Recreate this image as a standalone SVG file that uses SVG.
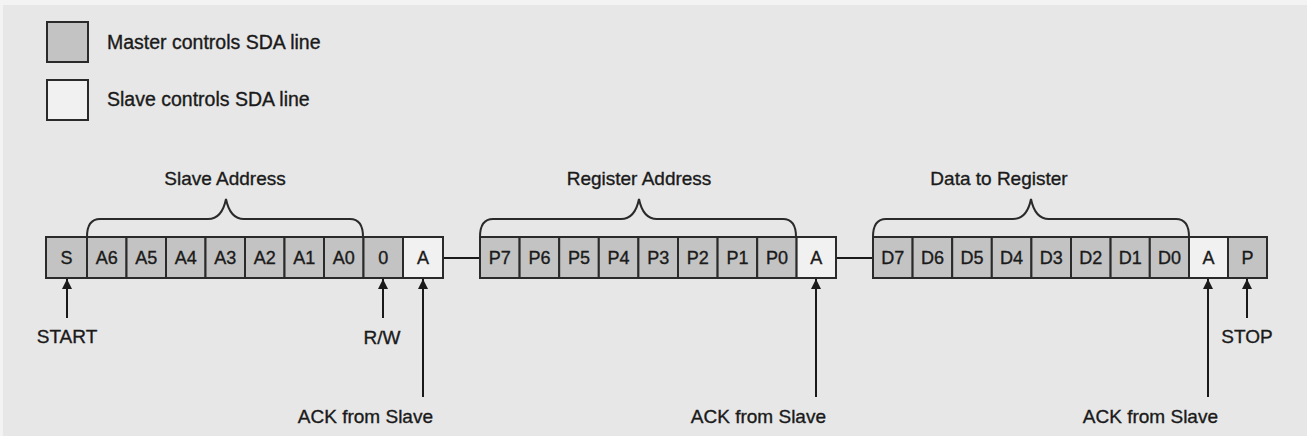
<svg xmlns="http://www.w3.org/2000/svg" width="1307" height="436" viewBox="0 0 1307 436">
<style>
text{font-family:"Liberation Sans",Arial,sans-serif;fill:#1a1a1a;stroke:#1a1a1a;stroke-width:0.35}
.lbl{font-size:19px}
.leg{font-size:19.5px}
.cell text{font-size:18px;text-anchor:middle}
.m{fill:#c3c3c3;stroke:#2a2a2a;stroke-width:2}
.s{fill:#f1f1f1;stroke:#2a2a2a;stroke-width:2}
.ln{stroke:#1a1a1a;stroke-width:2;fill:none}
.br{stroke:#2a2a2a;stroke-width:2;fill:none}
</style>
<defs>
<marker id="ah" viewBox="0 0 10 10" refX="10" refY="5" markerWidth="5.5" markerHeight="5" orient="auto" markerUnits="strokeWidth">
<path d="M0,0 L10,5 L0,10 z" fill="#1a1a1a"/>
</marker>
</defs>
<rect width="1307" height="436" fill="#f3f3f3"/>
<rect x="3" y="5" width="1304" height="431" fill="#e7e7e7"/>

<g id="legend-master"><rect class="m" x="47" y="22" width="41" height="40"/><text class="leg" x="107" y="49">Master controls SDA line</text></g>
<g id="legend-slave"><rect class="s" x="47" y="80" width="41" height="40"/><text class="leg" x="107" y="106">Slave controls SDA line</text></g>

<g id="connectors">
<line class="ln" x1="443" y1="258" x2="480" y2="258"/>
<line class="ln" x1="836" y1="258" x2="873" y2="258"/>
<line class="ln" x1="67" y1="318" x2="67" y2="279" marker-end="url(#ah)"/>
<line class="ln" x1="383" y1="318" x2="383" y2="279" marker-end="url(#ah)"/>
<line class="ln" x1="423" y1="397" x2="423" y2="279" marker-end="url(#ah)"/>
<line class="ln" x1="816" y1="397" x2="816" y2="279" marker-end="url(#ah)"/>
<line class="ln" x1="1208" y1="397" x2="1208" y2="279" marker-end="url(#ah)"/>
<line class="ln" x1="1247" y1="318" x2="1247" y2="279" marker-end="url(#ah)"/>
</g>

<g id="brace-slave-address"><path class="br" d="M87,237 Q87,219 100,219 L208,219 Q222,219 226,199 Q230,219 244,219 L350,219 Q363,219 363,237"/><text class="lbl" x="225" y="185" text-anchor="middle">Slave Address</text></g>
<g id="brace-register-address"><path class="br" d="M480,237 Q480,219 493,219 L621,219 Q635,219 639,199 Q643,219 657,219 L783,219 Q796,219 796,237"/><text class="lbl" x="639" y="185" text-anchor="middle">Register Address</text></g>
<g id="brace-data"><path class="br" d="M873,237 Q873,219 886,219 L1013,219 Q1027,219 1031,199 Q1035,219 1049,219 L1176,219 Q1189,219 1189,237"/><text class="lbl" x="999" y="185" text-anchor="middle">Data to Register</text></g>

<g id="frame1" class="cell">
<g id="c-S"><rect class="m" x="46" y="237" width="41" height="41"/><text x="66.5" y="264">S</text></g>
<g id="c-A6"><rect class="m" x="87" y="237" width="39.5" height="41"/><text x="106.7" y="264">A6</text></g>
<g id="c-A5"><rect class="m" x="126.5" y="237" width="39.5" height="41"/><text x="146.2" y="264">A5</text></g>
<g id="c-A4"><rect class="m" x="166" y="237" width="39.5" height="41"/><text x="185.7" y="264">A4</text></g>
<g id="c-A3"><rect class="m" x="205.5" y="237" width="39.5" height="41"/><text x="225.2" y="264">A3</text></g>
<g id="c-A2"><rect class="m" x="245" y="237" width="39.5" height="41"/><text x="264.7" y="264">A2</text></g>
<g id="c-A1"><rect class="m" x="284.5" y="237" width="39.5" height="41"/><text x="304.2" y="264">A1</text></g>
<g id="c-A0"><rect class="m" x="324" y="237" width="39.5" height="41"/><text x="343.7" y="264">A0</text></g>
<g id="c-RW"><rect class="m" x="363.5" y="237" width="39.5" height="41"/><text x="383.2" y="264">0</text></g>
<g id="c-ACK1"><rect class="s" x="403" y="237" width="40" height="41"/><text x="423" y="264">A</text></g>
</g>

<g id="frame2" class="cell">
<g id="c-P7"><rect class="m" x="480" y="237" width="39.6" height="41"/><text x="499.8" y="264">P7</text></g>
<g id="c-P6"><rect class="m" x="519.6" y="237" width="39.6" height="41"/><text x="539.4" y="264">P6</text></g>
<g id="c-P5"><rect class="m" x="559.2" y="237" width="39.6" height="41"/><text x="579" y="264">P5</text></g>
<g id="c-P4"><rect class="m" x="598.8" y="237" width="39.6" height="41"/><text x="618.6" y="264">P4</text></g>
<g id="c-P3"><rect class="m" x="638.4" y="237" width="39.6" height="41"/><text x="658.2" y="264">P3</text></g>
<g id="c-P2"><rect class="m" x="678" y="237" width="39.6" height="41"/><text x="697.8" y="264">P2</text></g>
<g id="c-P1"><rect class="m" x="717.6" y="237" width="39.6" height="41"/><text x="737.4" y="264">P1</text></g>
<g id="c-P0"><rect class="m" x="757.2" y="237" width="39.4" height="41"/><text x="776.9" y="264">P0</text></g>
<g id="c-ACK2"><rect class="s" x="796.6" y="237" width="39.4" height="41"/><text x="816.3" y="264">A</text></g>
</g>

<g id="frame3" class="cell">
<g id="c-D7"><rect class="m" x="873" y="237" width="39.6" height="41"/><text x="892.8" y="264">D7</text></g>
<g id="c-D6"><rect class="m" x="912.6" y="237" width="39.6" height="41"/><text x="932.4" y="264">D6</text></g>
<g id="c-D5"><rect class="m" x="952.2" y="237" width="39.6" height="41"/><text x="972" y="264">D5</text></g>
<g id="c-D4"><rect class="m" x="991.8" y="237" width="39.6" height="41"/><text x="1011.6" y="264">D4</text></g>
<g id="c-D3"><rect class="m" x="1031.4" y="237" width="39.6" height="41"/><text x="1051.2" y="264">D3</text></g>
<g id="c-D2"><rect class="m" x="1071" y="237" width="39.6" height="41"/><text x="1090.8" y="264">D2</text></g>
<g id="c-D1"><rect class="m" x="1110.6" y="237" width="39.2" height="41"/><text x="1130.2" y="264">D1</text></g>
<g id="c-D0"><rect class="m" x="1149.8" y="237" width="39.2" height="41"/><text x="1169.4" y="264">D0</text></g>
<g id="c-ACK3"><rect class="s" x="1189" y="237" width="39" height="41"/><text x="1208.5" y="264">A</text></g>
<g id="c-P"><rect class="m" x="1228" y="237" width="39" height="41"/><text x="1247.5" y="264">P</text></g>
</g>

<g id="lbl-start"><text class="lbl" x="67" y="343" text-anchor="middle">START</text></g>
<g id="lbl-rw"><text class="lbl" x="382" y="344" text-anchor="middle">R/W</text></g>
<g id="lbl-ack1"><text class="lbl" x="433" y="423" text-anchor="end">ACK from Slave</text></g>
<g id="lbl-ack2"><text class="lbl" x="826" y="423" text-anchor="end">ACK from Slave</text></g>
<g id="lbl-ack3"><text class="lbl" x="1218" y="423" text-anchor="end">ACK from Slave</text></g>
<g id="lbl-stop"><text class="lbl" x="1247" y="343" text-anchor="middle">STOP</text></g>
</svg>
